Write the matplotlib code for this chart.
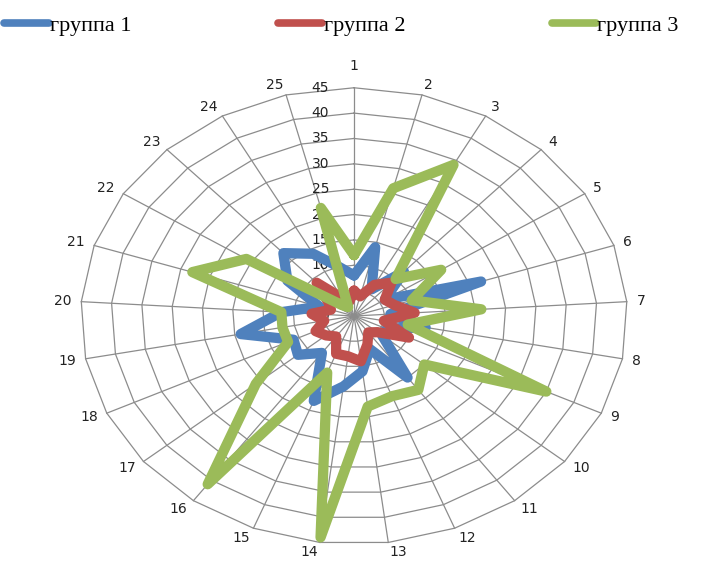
import numpy as np
import matplotlib.pyplot as plt
from matplotlib.lines import Line2D

# radar data
categories = [str(i) for i in range(1, 26)]
group1 = [8, 14, 6, 12, 6, 22, 6, 12, 6, 6, 15, 7, 11, 14, 18, 9, 12, 11, 19, 12, 6, 13, 17, 14, 10]
group2 = [5, 4, 7, 9, 6, 7, 10, 5, 10, 5, 4, 6, 9, 8, 8, 5, 6, 7, 5, 7, 4, 5, 9, 4, 3]
group3 = [12, 26, 34, 10, 17, 10, 21, 9, 35, 15, 18, 17, 18, 44, 12, 41, 21, 12, 12, 12, 28, 21, 3, 2, 22]
series_names = ['группа 1', 'группа 2', 'группа 3']
ring_values = [0, 5, 10, 15, 20, 25, 30, 35, 40, 45]

colors = ['#4F81BD', '#C0504D', '#9BBB59']
grid_color = '#8c8c8c'

n = len(categories)
theta = 2 * np.pi * np.arange(n) / n
rmax = ring_values[-1]


def to_xy(r):
    r = np.asarray(r, dtype=float)
    x = r * np.sin(theta)
    y = r * np.cos(theta)
    return np.append(x, x[0]), np.append(y, y[0])


fig = plt.figure(figsize=(7.02, 5.62), dpi=100)
ax = fig.add_axes([0, 0, 1, 1])
ax.set_xlim(-58.3, 57.3)
ax.set_ylim(-48.5, 62.3)
ax.axis('off')

# polygon grid
for v in ring_values[1:]:
    gx, gy = to_xy([v] * n)
    ax.plot(gx, gy, color=grid_color, lw=0.9, zorder=1)
for t in theta:
    ax.plot([0, rmax * np.sin(t)], [0, rmax * np.cos(t)], color=grid_color, lw=0.9, zorder=1)

# value labels along the first axis
for v in ring_values:
    ax.text(-4.1, v, str(v), ha='right', va='center', fontsize=10,
            family='DejaVu Sans', color='#222222', zorder=2)

# category labels
for t, lab in zip(theta, categories):
    s, c = np.sin(t), np.cos(t)
    ha = 'left' if s > 0.1 else ('right' if s < -0.1 else 'center')
    va = 'bottom' if c > 0.99 else 'center'
    off = 15 if c > 0.99 else 10
    ax.annotate(lab, xy=(rmax * s, rmax * c), xytext=(off * s, off * c),
                textcoords='offset pixels', ha=ha, va=va, fontsize=10,
                family='DejaVu Sans', color='#222222', annotation_clip=False)

# series
for vals, col in zip([group1, group2, group3], colors):
    sx, sy = to_xy(vals)
    ax.plot(sx, sy, color=col, lw=7.4, solid_joinstyle='round',
            solid_capstyle='round', zorder=3)

handles = [Line2D([], [], color=col, lw=5.5, solid_capstyle='round') for col in colors]
fig.legend(handles, series_names, loc='upper left', bbox_to_anchor=(-0.016, 1.0),
           ncol=3, frameon=False, handlelength=2.0, handletextpad=0.05,
           columnspacing=6.6, borderaxespad=0.3,
           prop={'family': 'Liberation Serif', 'size': 16})

fig.savefig('out.png', dpi=100)
